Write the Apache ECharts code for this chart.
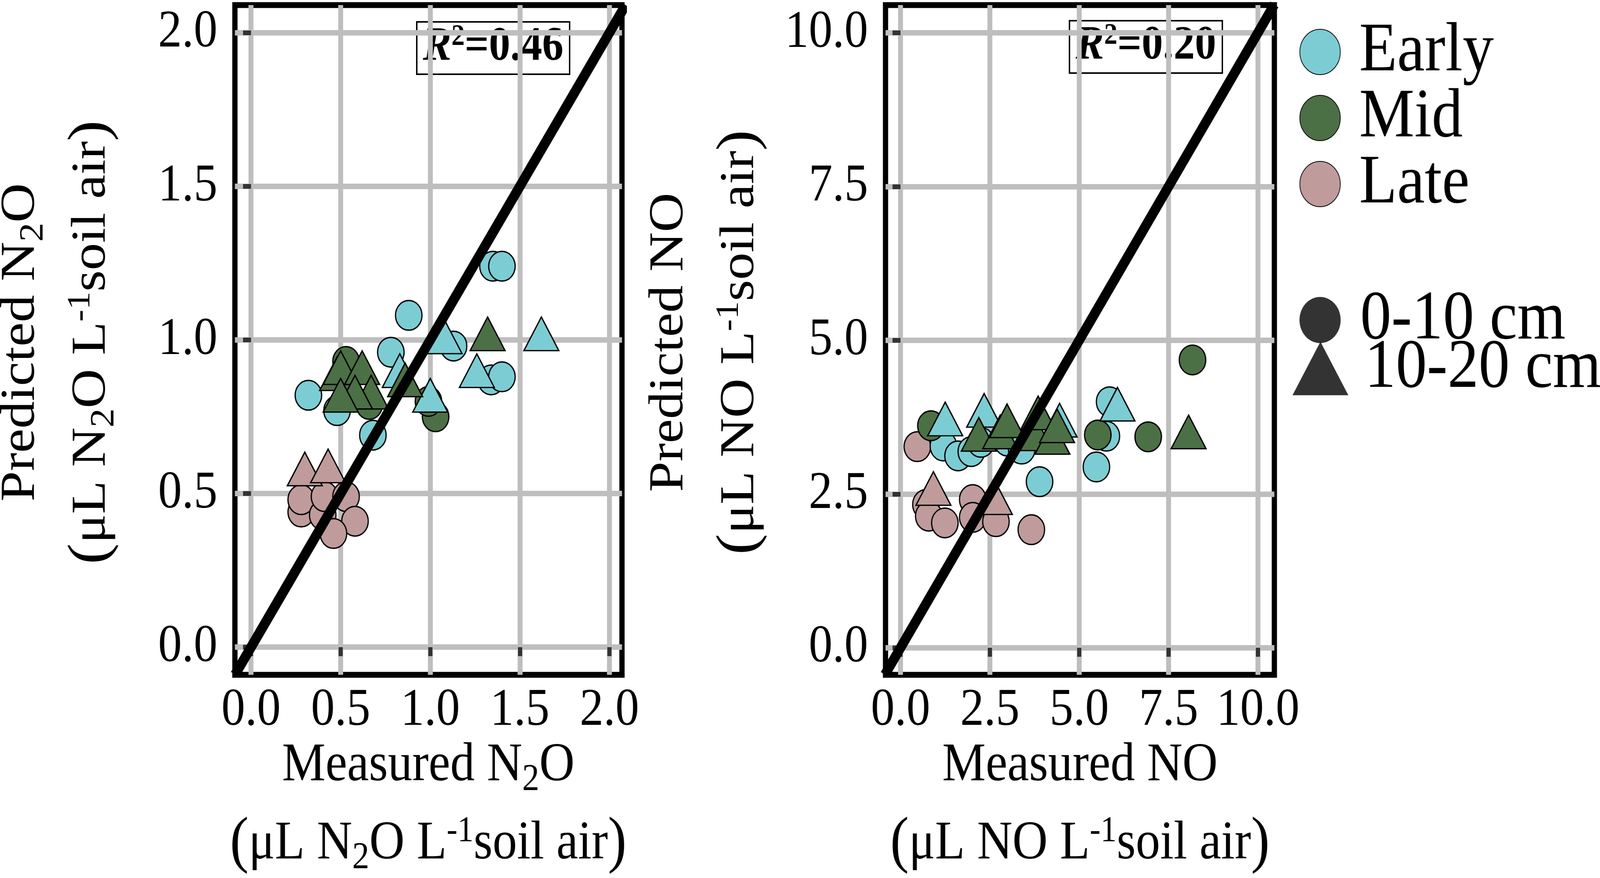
<!DOCTYPE html>
<html>
<head>
<meta charset="utf-8">
<script src="https://cdn.jsdelivr.net/npm/echarts@6/dist/echarts.min.js"></script>
<style>
html, body { margin: 0; padding: 0; background: #fff; overflow: hidden; }
#main { width: 4584px; height: 2247px; transform-origin: 0 0; }
</style>
</head>
<body>
<div id="main"></div>
<script>
// axis ticks and limits
var n2oTicks = [0, 0.5, 1.0, 1.5, 2.0];
var noTicks = [0, 2.5, 5.0, 7.5, 10.0];
var n2oXLim = [-0.09, 2.07];
var n2oYLim = [-0.09, 2.09];
var noXLim = [-0.42, 10.46];
var noYLim = [-0.44, 10.45];

var stages = ['Early', 'Mid', 'Late'];
var depths = ['0-10 cm', '10-20 cm'];
var r2Labels = ['0.46', '0.20'];

// N2O panel: [measured, predicted]
var n2oEarly0to10 = [[1.35, 1.24], [1.40, 1.24], [0.88, 1.08], [1.13, 0.98], [1.34, 0.87], [1.40, 0.88], [0.78, 0.96], [0.68, 0.69], [0.32, 0.82], [0.48, 0.77]];
var n2oEarly10to20 = [[1.08, 1.01], [1.62, 1.02], [1.26, 0.90], [0.83, 0.90], [1.00, 0.82]];
var n2oMid0to10 = [[1.03, 0.75], [0.99, 0.80], [0.66, 0.79], [0.53, 0.93]];
var n2oMid10to20 = [[1.32, 1.02], [0.48, 0.89], [0.50, 0.91], [0.62, 0.91], [0.67, 0.83], [0.58, 0.83], [0.50, 0.82], [0.86, 0.87]];
var n2oLate0to10 = [[0.28, 0.44], [0.28, 0.48], [0.40, 0.43], [0.41, 0.49], [0.53, 0.49], [0.58, 0.41], [0.46, 0.37]];
var n2oLate10to20 = [[0.30, 0.58], [0.43, 0.59]];

// NO panel: [measured, predicted]
var noEarly0to10 = [[5.76, 3.44], [5.85, 4.00], [5.48, 2.94], [3.89, 2.70], [1.20, 3.28], [1.61, 3.12], [1.98, 3.19], [2.25, 3.34], [2.99, 3.36], [3.39, 3.23]];
var noEarly10to20 = [[6.07, 3.96], [1.25, 3.72], [2.34, 3.86], [4.45, 3.70]];
var noMid0to10 = [[8.17, 4.68], [6.93, 3.43], [5.52, 3.46], [0.85, 3.61]];
var noMid10to20 = [[8.06, 3.51], [3.77, 3.48], [4.25, 3.42], [2.19, 3.47], [2.79, 3.51], [2.98, 3.69], [3.85, 3.82], [4.38, 3.61]];
var noLate0to10 = [[0.71, 2.33], [0.79, 2.14], [1.24, 2.03], [2.02, 2.41], [2.02, 2.12], [2.67, 2.05], [3.66, 1.92], [0.47, 3.27]];
var noLate10to20 = [[0.92, 2.59], [2.64, 2.44]];

var colors = { 'Early': '#7ccdd3', 'Mid': '#4c7045', 'Late': '#bf9b9c' };
var SERIF = 'Liberation Serif';

function axis(grid, lim, ticks, pos) {
    return {
        type: 'value', gridIndex: grid, position: pos,
        min: lim[0], max: lim[1],
        axisLine: { show: false },
        axisTick: { show: true, customValues: ticks, length: 23, lineStyle: { color: '#333', width: 12 } },
        splitLine: { show: true, lineStyle: { color: '#bebebe', width: 14 } },
        axisLabel: {
            customValues: ticks, margin: pos === 'left' ? 50 : 24,
            fontFamily: SERIF, fontSize: 136, color: '#000',
            formatter: function (v) { return v.toFixed(1); }
        }
    };
}

function dots(name, data, shape, idx) {
    return {
        name: name, type: 'scatter', xAxisIndex: idx, yAxisIndex: idx,
        data: data, symbol: shape,
        symbolSize: shape === 'circle' ? 76 : [100, 86],
        itemStyle: { color: colors[name], borderColor: '#000', borderWidth: 3.5, opacity: 1 },
        emphasis: { disabled: true }, silent: true
    };
}

function oneToOne(idx, xl, yl) {
    var lo = Math.min(xl[0], yl[0]), hi = Math.max(xl[1], yl[1]);
    return {
        type: 'line', xAxisIndex: idx, yAxisIndex: idx, data: [[lo, lo], [hi, hi]],
        showSymbol: false, symbol: 'none', silent: true,
        lineStyle: { color: '#000', width: 27 }
    };
}

function richStyles(size) {
    return {
        t: { fontFamily: SERIF, fontSize: size, lineHeight: 170, fill: '#000' },
        p: { fontFamily: SERIF, fontSize: size * 1.15, lineHeight: 170, fill: '#000' },
        s: { fontFamily: SERIF, fontSize: size * 0.7, verticalAlign: 'bottom', fill: '#000' },
        u: { fontFamily: SERIF, fontSize: size * 0.66, verticalAlign: 'top', padding: [8, 0, 0, 0], fill: '#000' }
    };
}

function title(text, x, y, rotate) {
    return {
        type: 'text', x: x, y: y, rotation: rotate ? Math.PI / 2 : 0, silent: true,
        style: { text: text, rich: richStyles(140), align: 'center', verticalAlign: 'middle' }
    };
}

function r2Box(label, x, y) {
    var bold = { fontFamily: SERIF, fontSize: 122, fontWeight: 'bold', fill: '#000', lineHeight: 140 };
    return {
        type: 'group', x: x, y: y, children: [
            { type: 'rect', shape: { x: -219, y: -67, width: 438, height: 134 },
              style: { fill: '#fff', stroke: '#000', lineWidth: 4 } },
            { type: 'text', x: 0, y: -2, style: {
                text: '{ri|R}{su|2}{b|=' + label + '}', align: 'center', verticalAlign: 'middle',
                rich: {
                    b: bold,
                    ri: { fontFamily: SERIF, fontSize: 122, fontWeight: 'bold', fontStyle: 'italic', fill: '#000', lineHeight: 140 },
                    su: { fontFamily: SERIF, fontSize: 76, fontWeight: 'bold', fill: '#000', verticalAlign: 'top', padding: [6, 0, 0, 0] }
                }
            } }
        ]
    };
}

// legend text box is ~one font size tall, so item gap is negative to get the
// reference spacing of ~169 px between keys
function legendBox(names, icon, top, left, w, h, pad) {
    return {
        data: names.map(function (n) { return { name: n, icon: icon }; }),
        orient: 'vertical', left: left, top: top, padding: 0,
        itemWidth: w, itemHeight: h, itemGap: -9, selectedMode: false,
        textStyle: { fontFamily: SERIF, fontSize: 178, color: '#000', padding: pad }
    };
}

// the layout is in 4584x2247 reference pixels; stretch it onto the real viewport
var box = document.getElementById('main');
var sx = window.innerWidth / 4584, sy = window.innerHeight / 2247;
if (sx > 0 && sy > 0 && (Math.abs(sx - 1) > 0.001 || Math.abs(sy - 1) > 0.001)) {
    box.style.transform = 'scale(' + sx + ',' + sy + ')';
}

var chart = echarts.init(box, null, { renderer: 'canvas' });

var option = {
    animation: false,
    backgroundColor: '#fff',
    grid: [
        { left: 673, top: 13, width: 1109, height: 1714, show: true, borderColor: '#000', borderWidth: 15, backgroundColor: '#fff', z: 0 },
        { left: 2537, top: 13, width: 1114, height: 1714, show: true, borderColor: '#000', borderWidth: 15, backgroundColor: '#fff', z: 0 }
    ],
    xAxis: [axis(0, n2oXLim, n2oTicks, 'bottom'), axis(1, noXLim, noTicks, 'bottom')],
    yAxis: [axis(0, n2oYLim, n2oTicks, 'left'), axis(1, noYLim, noTicks, 'left')],
    legend: [
        legendBox(stages, 'circle', 44, 3723, 118, 116, [0, 0, 0, 48]),
        legendBox([depths[0]], 'circle', 730, 3723, 118, 118, [0, 0, 0, 51]),
        legendBox([depths[1]], 'triangle', 854, 3703, 160, 137, [48, 0, 0, 42])
    ],
    series: [
        oneToOne(0, n2oXLim, n2oYLim),
        oneToOne(1, noXLim, noYLim),
        dots('Late', n2oLate0to10, 'circle', 0),
        dots('Early', n2oEarly0to10, 'circle', 0),
        dots('Mid', n2oMid0to10, 'circle', 0),
        dots('Early', n2oEarly10to20, 'triangle', 0),
        dots('Mid', n2oMid10to20, 'triangle', 0),
        dots('Late', n2oLate10to20, 'triangle', 0),
        dots('Late', noLate0to10, 'circle', 1),
        dots('Early', noEarly0to10, 'circle', 1),
        dots('Mid', noMid0to10, 'circle', 1),
        dots('Early', noEarly10to20, 'triangle', 1),
        dots('Mid', noMid10to20, 'triangle', 1),
        dots('Late', noLate10to20, 'triangle', 1),
        { name: depths[0], type: 'scatter', data: [], symbol: 'circle', itemStyle: { color: '#000' } },
        { name: depths[1], type: 'scatter', data: [], symbol: 'triangle', itemStyle: { color: '#000' } }
    ],
    graphic: [
        r2Box(r2Labels[0], 1413, 123),
        r2Box(r2Labels[1], 3283, 120),
        title('{t|Predicted N}{s|2}{t|O}', 60, 876, true),
        title('{p|(}{t|\u03bcL N}{s|2}{t|O L}{u|-1}{t|soil air}{p|)}', 263, 876, true),
        title('{t|Predicted NO}', 1918, 876, true),
        title('{p|(}{t|\u03bcL NO L}{u|-1}{t|soil air}{p|)}', 2121, 876, true),
        title('{t|Measured N}{s|2}{t|O}', 1227, 1960, false),
        title('{p|(}{t|\u03bcL N}{s|2}{t|O L}{u|-1}{t|soil air}{p|)}', 1227, 2160, false),
        title('{t|Measured NO}', 3094, 1960, false),
        title('{p|(}{t|\u03bcL NO L}{u|-1}{t|soil air}{p|)}', 3094, 2160, false)
    ]
};

chart.setOption(option);
</script>
</body>
</html>
